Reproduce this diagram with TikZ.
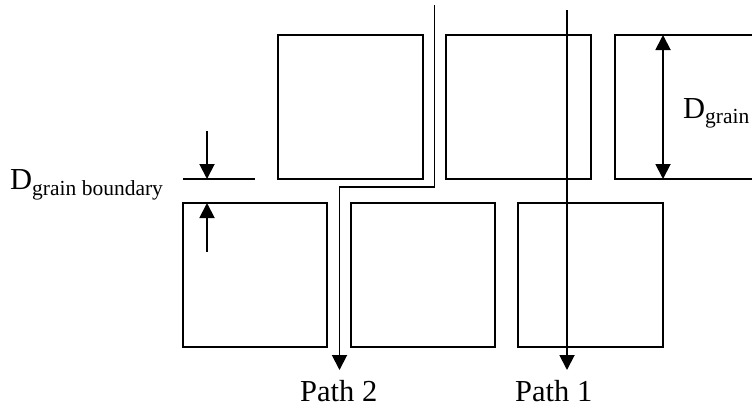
\documentclass[tikz,border=0pt]{standalone}
\usepackage{fontspec}
\setmainfont{Liberation Serif}
\usetikzlibrary{arrows.meta}
\begin{document}
\begin{tikzpicture}[x=1pt,y=-1pt,
  grainline/.style={line width=1.9pt,line join=miter},
  arr/.style={line width=1.9pt,-{Triangle[length=15pt,width=15pt]}},
  dbl/.style={line width=1.9pt,{Triangle[length=15pt,width=15pt]}-{Triangle[length=15pt,width=15pt]}},
  lbl/.style={inner sep=0pt,anchor=base west,font=\fontsize{30.5}{30.5}\selectfont}]
\useasboundingbox (0,0) rectangle (752,408);
% top row of grains
\draw[grainline] (278,35) rectangle (423,179);
\draw[grainline] (446,35) rectangle (591,179);
\draw[grainline] (753,35) -- (615,35) -- (615,179) -- (753,179);
% bottom row of grains
\draw[grainline] (183,203) rectangle (327,347);
\draw[grainline] (351,203) rectangle (495,347);
\draw[grainline] (518,203) rectangle (663,347);
% grain boundary marker
\coordinate (gbL) at (183,179);
\coordinate (gbR) at (255,179);
\draw[grainline] (gbL) -- (gbR);
\coordinate (gbTop) at (207,131);
\coordinate (gbTopTip) at (207,179);
\coordinate (gbBot) at (207,252);
\coordinate (gbBotTip) at (207,203);
\draw[arr] (gbTop) -- (gbTopTip);
\draw[arr] (gbBot) -- (gbBotTip);
% grain size marker
\coordinate (gsT) at (663,35);
\coordinate (gsB) at (663,179);
\draw[dbl] (gsT) -- (gsB);
% paths
\coordinate (p1s) at (567,10);
\coordinate (p1e) at (567,370);
\draw[arr] (p1s) -- (p1e);
\coordinate (p2s) at (434.5,5);
\coordinate (p2a) at (434.5,187);
\coordinate (p2b) at (339.5,187);
\coordinate (p2e) at (339.5,370);
\draw[arr,line join=miter] (p2s) -- (p2a) -- (p2b) -- (p2e);
% labels
\node[lbl] (lgb) at (10,189) {D\raisebox{-6pt}{\fontsize{21.5}{21.5}\selectfont grain boundary}};
\node[lbl] (lg) at (683,118) {D\raisebox{-5pt}{\fontsize{21.5}{21.5}\selectfont grain}};
\node[lbl] (lp2) at (300,401) {Path 2};
\node[lbl] (lp1) at (515,401) {Path 1};
\end{tikzpicture}
\end{document}
